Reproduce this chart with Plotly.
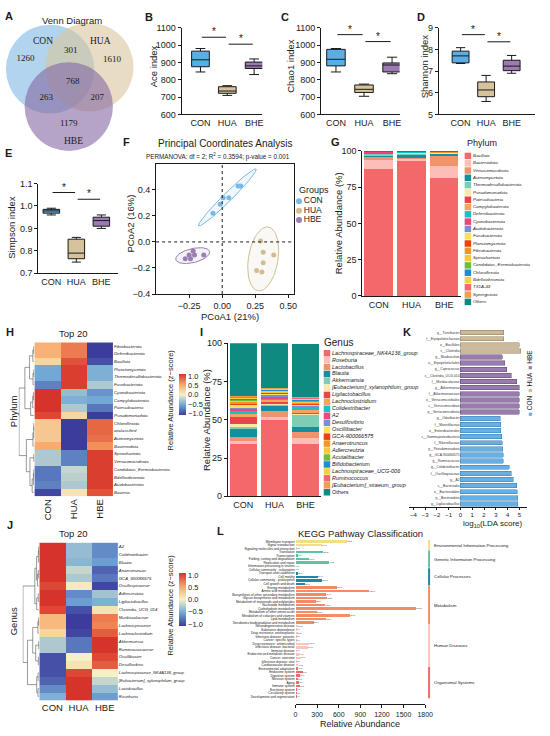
import numpy as np
import plotly.graph_objects as go

W, H = 550, 736
SANS = "Arial, Liberation Sans, sans-serif"
SERIF = "Times New Roman, Liberation Serif, serif"
INK = "#1a1a1a"

# ---------------- data ----------------
# A  Venn
venn_sets = ["CON", "HUA", "HBE"]
venn_only = [1260, 1610, 1179]
venn_pairs = [301, 263, 207]          # CON&HUA, CON&HBE, HUA&HBE
venn_core = 768

# B-E  alpha diversity (lower whisker, q1, median, q3, upper whisker)
alpha_groups = ["CON", "HUA", "BHE"]
ace_stats = dict(lo=[845, 710, 830], q1=[875, 722, 865], med=[915, 735, 880], q3=[965, 760, 902], hi=[980, 766, 920])
ace_sig = [1045, 1005]
chao1_stats = dict(lo=[845, 705, 835], q1=[880, 727, 845], med=[918, 745, 885], q3=[975, 770, 897], hi=[980, 775, 930])
chao1_sig = [1060, 1020]
shannon_stats = dict(lo=[7.35, 5.6, 6.9], q1=[7.38, 5.82, 7.02], med=[7.7, 6.13, 7.23], q3=[7.92, 6.5, 7.5], hi=[8.08, 6.8, 7.72])
shannon_sig = [8.68, 8.35]
simpson_stats = dict(lo=[0.96, 0.75, 0.90], q1=[0.968, 0.765, 0.91], med=[0.978, 0.79, 0.935], q3=[0.985, 0.852, 0.95], hi=[0.99, 0.86, 0.96])
simpson_sig = [1.06, 1.03]

# F  PCoA
pcoa_groups = ["CON", "HUA", "HBE"]
pcoa_x = [[-0.07, -0.015, 0.007, 0.05, 0.12, 0.14],
          [0.29, 0.31, 0.39, 0.31, 0.26, 0.30],
          [-0.28, -0.25, -0.24, -0.22, -0.21, -0.14]]
pcoa_y = [[0.22, 0.29, 0.34, 0.34, 0.43, 0.43],
          [0.008, -0.08, -0.10, -0.16, -0.22, -0.23],
          [-0.13, -0.10, -0.13, -0.07, -0.10, -0.10]]

# G  phylum composition (%), CON / HUA / BHE
phyla = ["Bacillota", "Bacteroidota", "Verrucomicrobiota", "Actinomycetota", "Thermodesulfobacteriota",
         "Pseudomonadota", "Patescibacteria", "Campylobacterota", "Deferribacterota", "Cyanobacteriota",
         "Acidobacteriota", "Fusobacteriota", "Planctomycetota", "Fibrobacterota", "Spirochaetota",
         "Candidatus_Eremiobacterota", "Chloroflexota", "Bdellovibrionota", "TX1A-33", "Synergistota", "Others"]
phylum_abund = [[87.3, 93.0, 81.6], [6.7, 1.5, 8.0], [1.8, 1.2, 7.2], [1.4, 1.3, 1.3], [0.8, 1.5, 0.4],
                [0.6, 0.3, 0.3], [0.3, 0.2, 0.2], [0.3, 0.2, 0.1], [0.1, 0.2, 0.05], [0.1, 0.05, 0.05],
                [0.05, 0.05, 0.05], [0.05, 0.05, 0.02], [0.02, 0.02, 0.02], [0.02, 0.02, 0.02], [0.02, 0.02, 0.02],
                [0.02, 0.02, 0.02], [0.02, 0.02, 0.02], [0.02, 0.02, 0.02], [0.02, 0.02, 0.02], [0.02, 0.02, 0.02],
                [0.34, 0.29, 0.57]]
comp_groups = ["CON", "HUA", "BHE"]

# I  genus composition (%)
genera = ["Lachnospiraceae_NK4A136_group", "Roseburia", "Lactobacillus", "Blautia", "Akkermansia",
          "[Eubacterium]_xylanophilum_group", "Ligilactobacillus", "Lachnoclostridium", "Colidextribacter", "A2",
          "Desulfovibrio", "Oscillibacter", "GCA-900066575", "Anaerotruncus", "Adlercreutzia", "Acutalibacter",
          "Bifidobacterium", "Lachnospiraceae_UCG-006", "Ruminococcus", "[Eubacterium]_siraeum_group", "Others"]
genus_abund = [[34, 50, 34], [2, 2, 4], [3, 4, 4], [5, 3, 3], [1, 0.5, 8], [2, 1, 1], [5, 1, 0.5], [2, 1.5, 2],
               [1.5, 1, 1], [1.5, 0.8, 0.5], [1, 1.2, 1], [1.5, 0.8, 1], [1, 0.5, 0.5], [1, 0.6, 0.8],
               [0.8, 0.8, 0.5], [0.6, 0.4, 0.5], [0.5, 0.4, 0.5], [1, 0.6, 1], [0.5, 0.4, 0.5], [0.6, 0.5, 0.5],
               [34.5, 29.0, 34.7]]
comp_palette = ["#f4686a", "#fbbfb8", "#f0926a", "#138fa0", "#7fcdb5", "#fde8a8", "#e8454a", "#f7a35c",
                "#14c4c4", "#f0447a", "#7b8fd0", "#fde05a", "#f04010", "#f7961e", "#f5c842", "#6cbf3d",
                "#1a8fd6", "#f5d040", "#f4686a", "#f59a50", "#0f8a80"]

# H  phylum z-score heatmap (CON, HUA, HBE)
heat_groups = ["CON", "HUA", "HBE"]
phylum_rows = ["Fibrobacterota", "Deferribacterota", "Bacillota", "Planctomycetota", "Thermodesulfobacteriota",
               "Fusobacteriota", "Cyanobacteriota", "Campylobacterota", "Patescibacteria", "Pseudomonadota",
               "Chloroflexota", "unclassified", "Actinomycetota", "Bacteroidota", "Spirochaetota",
               "Verrucomicrobiota", "Candidatus_Eremiobacterota", "Bdellovibrionota", "Acidobacteriota", "Bacteria"]
phylum_z = [[0.45, 0.75, -1.1], [0.45, 0.75, -1.1], [0.2, 0.95, -1.0], [-0.55, 1.05, -0.5], [-0.55, 1.05, -0.5],
            [-0.75, 1.05, -0.3], [1.1, -0.4, -0.65], [1.1, -0.5, -0.55], [1.1, -0.3, -0.8], [1.0, 0.2, -1.1],
            [0.3, -1.1, 0.85], [0.3, -1.1, 0.85], [0.3, -1.1, 0.8], [0.5, -1.1, 0.65], [-0.3, -0.75, 1.05],
            [-0.3, -0.75, 1.05], [-0.8, -0.2, 1.05], [-0.8, -0.25, 1.05], [-0.75, -0.3, 1.05], [-1.05, 0.1, 0.95]]
phylum_tree = (((((0, 1), 2), ((3, 4), 5)), (((6, 7), 8), 9)),
               ((((10, 11), 12), 13), ((14, 15), (((16, 17), 18), 19))))

# J  genus z-score heatmap
genus_rows = ["A2", "Colidextribacter", "Blautia", "Anaerotruncus", "GCA_900066575", "Oscillospiraceae",
              "Adlercreutzia", "Ligilactobacillus", "Clostridia_UCG_014", "Muribaculaceae", "Lachnospiraceae",
              "Lachnoclostridium", "Akkermansia", "Ruminococcaceae", "Oscillibacter", "Desulfovibrio",
              "Lachnospiraceae_NK4A136_group", "[Eubacterium]_xylanophilum_group", "Lactobacillus", "Roseburia"]
genus_z = [[1.1, -0.4, -0.7], [1.1, -0.4, -0.7], [1.1, -0.45, -0.6], [1.1, -0.2, -0.9], [1.1, -0.3, -0.8],
           [1.0, 0.05, -1.05], [1.1, -0.7, -0.35], [1.1, -0.6, -0.5], [1.0, -1.0, 0.1], [0.4, -1.1, 0.75],
           [0.4, -1.1, 0.7], [0.2, -1.05, 0.9], [-0.3, -0.8, 1.1], [-0.3, -0.8, 1.1], [-1.0, 0.0, 1.0],
           [-1.0, 0.1, 0.9], [-1.0, 1.0, 0.0], [-0.9, 1.1, -0.2], [-0.7, 1.1, -0.4], [-0.5, 1.1, -0.6]]
genus_tree = (((((0, 1), 2), ((3, 4), 5)), ((6, 7), 8)),
              ((((9, 10), 11), ((12, 13), (14, 15))), ((16, 17), (18, 19))))

# K  LEfSe
lda_hua_taxa = ["g__Turicibacter", "f__Erysipelotrichaceae", "o__Bacillales", "c__Clostridia"]
lda_hua = [3.67, 3.69, 5.0, 5.13]
lda_hbe_taxa = ["g__Muribaculum", "o__Erysipelotrichales", "g__Coprococcus", "c__Clostridia_UCG-014",
                "f__Muribaculaceae", "g__Akkermansia", "f__Akkermansiaceae", "o__Verrucomicrobiales",
                "c__Verrucomicrobiae", "p__Verrucomicrobiota"]
lda_hbe = [3.55, 3.75, 3.94, 4.3, 4.78, 4.98, 4.99, 4.99, 4.99, 5.0]
lda_con_taxa = ["g__Odoribacter", "f__Marinifilaceae", "o__Enterobacterales", "c__Gammaproteobacteria",
                "f__Rikenellaceae", "p__Pseudomonadota", "g__GCA-900066575", "g__Ruminococcus",
                "g__Colidextribacter", "f__Oscillospiraceae", "g__A2", "c__Bacteroidia", "o__Bacteroidales",
                "p__Bacteroidota", "g__Ligilactobacillus"]
lda_con = [3.38, 3.42, 3.44, 3.5, 3.53, 3.58, 3.61, 3.61, 4.14, 4.33, 4.47, 4.78, 4.83, 4.86, 4.86]

# L  KEGG level-2 pathways
kegg_levels = ["Environmental Information Processing", "Genetic Information Processing", "Cellular Processes",
               "Metabolism", "Human Diseases", "Organismal Systems"]
kegg_level_size = [3, 5, 5, 11, 12, 9]
kegg_colors = ["#f6dc84", "#5cc4a0", "#1a8aa6", "#f28c64", "#f9c4bc", "#f06a6a"]
kegg_paths = ["Membrane transport", "Signal transduction", "Signaling molecules and interaction",
              "Translation", "Transcription", "Folding, sorting and degradation", "Replication and repair",
              "Information processing in viruses",
              "Cellular community - eukaryotes", "Transport and catabolism", "Cell motility",
              "Cellular community - prokaryotes", "Cell growth and death",
              "Energy metabolism", "Amino acid metabolism", "Biosynthesis of other secondary metabolites",
              "Glycan biosynthesis and metabolism", "Metabolism of terpenoids and polyketides",
              "Nucleotide metabolism", "Carbohydrate metabolism", "Metabolism of other amino acids",
              "Metabolism of cofactors and vitamins", "Lipid metabolism", "Xenobiotics biodegradation and metabolism",
              "Neurodegenerative disease", "Substance dependence", "Drug resistance: antineoplastic",
              "Infectious disease: parasitic", "Cancer: specific types", "Drug resistance: antimicrobial",
              "Infectious disease: bacterial", "Immune disease", "Endocrine and metabolic disease",
              "Cancer: overview", "Infectious disease: viral", "Cardiovascular disease",
              "Environmental adaptation", "Endocrine system", "Digestive system", "Nervous system", "Aging",
              "Immune system", "Excretory system", "Circulatory system", "Development and regeneration"]
kegg_abund = [712.92, 364.41, 1.21,
              387.51, 21.9, 191.19, 466.33, 0.02,
              0.02, 35.69, 306.47, 371.02, 131.04,
              578.93, 1023.47, 419.67, 435.38, 282.96, 413.02, 1673.17, 296.2, 757.95, 423.97, 251.04,
              36.12, 1.04, 21.75, 2.0, 8.99, 191.65, 169.96, 1.7, 51.13, 76.11, 7.6, 40.02,
              40.07, 97.16, 62.34, 31.79, 47.66, 60.87, 9.05, 2.11, 0.14]

# ---------------- figure ----------------
fig = go.Figure()
lay = dict(width=W, height=H, margin=dict(l=0, r=0, t=0, b=0), paper_bgcolor="white",
           plot_bgcolor="rgba(0,0,0,0)", font=dict(family=SANS, size=9, color=INK),
           barmode="stack", showlegend=False)
ann = []
shp = []

LINE = dict(showline=True, linecolor=INK, linewidth=1, ticks="outside", ticklen=3, tickwidth=1,
            tickcolor=INK, tickfont=dict(size=9, color=INK))
HIDE = dict(visible=False)


def put_axes(n, x0, x1, top, bottom, xkw, ykw):
    s = "" if n == 1 else str(n)
    xa = dict(domain=[x0 / W, x1 / W], anchor="y" + s, showgrid=False, zeroline=False)
    ya = dict(domain=[1 - bottom / H, 1 - top / H], anchor="x" + s, showgrid=False, zeroline=False)
    xa.update(xkw)
    ya.update(ykw)
    lay["xaxis" + s] = xa
    lay["yaxis" + s] = ya
    return "x" + s, "y" + s


def label(x, y, s, size=9, bold=False, angle=0, anchor="center", family=SANS, color=INK):
    if bold:
        s = "<b>%s</b>" % s
    ann.append(dict(x=x / W, y=1 - y / H, xref="paper", yref="paper", text=s, showarrow=False,
                    font=dict(family=family, size=size, color=color), xanchor=anchor, yanchor="middle",
                    textangle=angle))


# panel letters
for ch, x, y in [("A", 7, 11), ("B", 150, 12), ("C", 288, 12), ("D", 427, 12), ("E", 7, 150), ("F", 127, 139),
                 ("G", 340, 139), ("H", 8, 331), ("I", 203, 332), ("J", 8, 527), ("K", 413, 331), ("L", 223, 533)]:
    label(x, y, ch, size=11, bold=True)

# ---- A: Venn ----
xa, ya = put_axes(1, 0, 140, 0, 152, dict(HIDE, range=[0, 140]), dict(HIDE, range=[152, 0]))
venn_centers = [(49, 65), (89, 63), (68, 103)]
venn_r = 45
venn_fill = ["#7fb7e3", "#d8c49d", "#8468a4"]
for (cx, cy), col in zip(venn_centers, venn_fill):
    shp.append(dict(type="circle", xref=xa, yref=ya, x0=cx - venn_r, x1=cx + venn_r, y0=cy - venn_r,
                    y1=cy + venn_r, fillcolor=col, opacity=0.6, line=dict(width=0), layer="below"))
venn_text_pos = [(24, 54), (112, 55), (68, 120), (70, 46), (45, 94), (97, 94), (72, 78)]
venn_values = venn_only + venn_pairs + [venn_core]
fig.add_trace(go.Scatter(x=[p[0] for p in venn_text_pos], y=[p[1] for p in venn_text_pos],
                         text=[str(v) for v in venn_values], mode="text",
                         textfont=dict(family=SERIF, size=9, color=INK), xaxis=xa, yaxis=ya, hoverinfo="skip"))
for name, (x, y) in zip(venn_sets, [(42, 37), (100, 37), (73, 138)]):
    label(x, y, name, size=9.5, family=SERIF)
label(71, 16, "Venn Diagram", size=9.5)

# ---- B-E: boxes ----
box_colors = ["#5aaee3", "#d6c39c", "#9b7bb1"]


def box_panel(n, x0, x1, top, bottom, xrange, yrange, dtick, stats, sig, ytitle, tpos, fmt=None):
    ykw = dict(LINE, range=yrange, dtick=dtick)
    if fmt:
        ykw["tickformat"] = fmt
    xa, ya = put_axes(n, x0, x1, top, bottom,
                      dict(LINE, range=xrange, tickvals=[0, 1, 2], ticktext=alpha_groups, ticks=""), ykw)
    for i, col in enumerate(box_colors):
        fig.add_trace(go.Box(x=[i], q1=[stats["q1"][i]], median=[stats["med"][i]], q3=[stats["q3"][i]],
                             lowerfence=[stats["lo"][i]], upperfence=[stats["hi"][i]], width=0.66,
                             whiskerwidth=0.55, fillcolor=col, line=dict(color=INK, width=1), boxpoints=False,
                             xaxis=xa, yaxis=ya, hoverinfo="skip"))
    for i, v in enumerate(sig):
        fig.add_trace(go.Scatter(x=[i + 0.05, i + 0.95], y=[v, v], mode="lines", line=dict(color=INK, width=1),
                                 xaxis=xa, yaxis=ya, hoverinfo="skip"))
        ann.append(dict(x=i + 0.5, y=v, xref=xa, yref=ya, text="*", showarrow=False, yanchor="bottom",
                        yshift=-2, font=dict(size=10, color=INK)))
    label(tpos[0], tpos[1], ytitle, size=9.5, angle=-90)


box_panel(2, 183, 265, 23, 111, [-0.7, 2.3], [600, 1100], 100, ace_stats, ace_sig, "Ace index", (154, 62))
box_panel(3, 325, 405, 23, 111, [-0.53, 2.27], [600, 1100], 100, chao1_stats, chao1_sig, "Chao1 index", (293, 62))
box_panel(4, 445, 543, 23, 111, [-0.85, 2.92], [5, 9], 1, shannon_stats, shannon_sig, "Shannon index", (430, 62))
box_panel(5, 37, 118, 181, 272, [-0.52, 2.66], [0.7, 1.1], 0.1, simpson_stats, simpson_sig, "Simpson index",
          (10, 225), fmt=".1f")

# ---- F: PCoA ----
pcoa_colors = ["#7ab8e6", "#d2bd93", "#9b7db5"]
pcoa_fill = ["rgba(122,184,230,0.10)", "rgba(210,189,147,0.10)", "rgba(155,125,181,0.10)"]
xa, ya = put_axes(6, 157, 297, 161, 293,
                  dict(LINE, range=[-0.5, 0.54], tickvals=[-0.25, 0, 0.25, 0.5], tickformat=".2f", mirror=True,
                       linewidth=1.3),
                  dict(LINE, range=[-0.4, 0.6], tickvals=[-0.4, -0.2, 0, 0.2, 0.4], tickformat=".1f",
                       mirror=True, linewidth=1.3))


def conf_ellipse(x, y, k=2.7, n=80):
    x = np.asarray(x)
    y = np.asarray(y)
    vals, vecs = np.linalg.eigh(np.cov(x, y))
    t = np.linspace(0, 2 * np.pi, n)
    pts = vecs @ (np.sqrt(vals)[:, None] * np.stack([np.cos(t), np.sin(t)])) * k
    return x.mean() + pts[0], y.mean() + pts[1]


for i in range(3):
    ex, ey = conf_ellipse(pcoa_x[i], pcoa_y[i])
    fig.add_trace(go.Scatter(x=ex, y=ey, mode="lines", fill="toself", fillcolor=pcoa_fill[i],
                             line=dict(color=pcoa_colors[i], width=1), xaxis=xa, yaxis=ya, hoverinfo="skip"))
    fig.add_trace(go.Scatter(x=pcoa_x[i], y=pcoa_y[i], mode="markers", marker=dict(size=5, color=pcoa_colors[i]),
                             xaxis=xa, yaxis=ya, hoverinfo="skip"))
shp.append(dict(type="line", xref=xa, yref=ya + " domain", x0=0, x1=0, y0=0, y1=1,
                line=dict(color=INK, width=1, dash="dot")))
shp.append(dict(type="line", xref=xa + " domain", yref=ya, x0=0, x1=1, y0=0, y1=0,
                line=dict(color=INK, width=1, dash="dot")))
label(228, 140, "Principal Coordinates Analysis", size=10)
label(220, 154, "PERMANOVA: df = 2; R<sup>2</sup> = 0.3594; p-value = 0.001", size=6.3)
label(131, 222, "PCoA2 (16%)", size=9.5, angle=-90)
label(232, 316, "PCoA1 (21%)", size=9.5)
# groups legend
xa, ya = put_axes(17, 298, 340, 194.25, 222.75, dict(HIDE, range=[-0.12, 1]), dict(HIDE, range=[2.5, -0.5]))
fig.add_trace(go.Scatter(x=[0, 0, 0], y=[0, 1, 2], mode="markers+text", text=pcoa_groups,
                         textposition="middle right", textfont=dict(size=8.5, color=INK),
                         marker=dict(size=6, color=pcoa_colors), xaxis=xa, yaxis=ya, hoverinfo="skip"))
label(300, 188, "Groups", size=9, anchor="left")


# ---- G / I: stacked composition ----
def comp_panel(n, x0, x1, top, bottom, names, values, ytitle_x):
    xa, ya = put_axes(n, x0, x1, top, bottom,
                      dict(LINE, range=[-0.5, 2.5], tickvals=[0, 1, 2], ticktext=comp_groups, ticks=""),
                      dict(LINE, range=[0, 100], tickvals=[0, 25, 50, 75, 100]))
    for name, vals, col in zip(names, values, comp_palette):
        fig.add_trace(go.Bar(x=[0, 1, 2], y=vals, name=name, width=0.87, marker=dict(color=col, line=dict(width=0)),
                             xaxis=xa, yaxis=ya, hoverinfo="skip"))
    label(ytitle_x, (top + bottom) / 2, "Relative Abundance (%)", size=9.5, angle=-90)


def legend_panel(n, x0, x1, top, bottom, names, tsize, msize, pad):
    k = len(names)
    xa, ya = put_axes(n, x0, x1, top, bottom, dict(HIDE, range=[-pad, 1]), dict(HIDE, range=[k - 0.5, -0.5]))
    txt = [nm if nm == "Others" else "<i>%s</i>" % nm for nm in names]
    fig.add_trace(go.Scatter(x=[0] * k, y=list(range(k)), mode="markers+text", text=txt,
                             textposition="middle right", textfont=dict(size=tsize, color=INK),
                             marker=dict(symbol="square", size=msize, color=comp_palette[:k]),
                             xaxis=xa, yaxis=ya, hoverinfo="skip", cliponaxis=False))


comp_panel(7, 367, 467, 148, 295, phyla, phylum_abund, 343)
legend_panel(15, 471, 545, 149.3, 304.7, phyla, 4.4, 6.5, 0.05)
label(472, 140, "Phylum", size=9, anchor="left")

comp_panel(10, 230, 325, 343, 498, genera, genus_abund, 209)
legend_panel(16, 327, 445, 349.5, 497.5, genera, 5.5, 6.5, 0.035)
label(326, 342, "Genus", size=10, anchor="left")

# ---- H / J: heatmaps ----
heat_scale = [[0.0, "#3c3c9c"], [0.25, "#72a8d6"], [0.5, "#f4f1c6"], [0.75, "#f9a464"], [1.0, "#d6342a"]]


def dendro(tree, values):
    vals = np.asarray(values, float)
    xs, ys = [], []

    def walk(node):
        if isinstance(node, int):
            return float(node), 0.0, vals[[node]]
        p1, h1, m1 = walk(node[0])
        p2, h2, m2 = walk(node[1])
        h = max(h1, h2) + np.linalg.norm(m1.mean(0) - m2.mean(0))
        xs.extend([h1, h, h, h2, None])
        ys.extend([p1, p1, p2, p2, None])
        return (p1 + p2) / 2, h, np.vstack([m1, m2])

    _, top_h, _ = walk(tree)
    return xs, ys, top_h


def heat_panel(n_heat, n_tree, x0, x1, top, bottom, tx0, rows, z, tree, cb_mid, cb_len, angle, row_size):
    k = len(rows)
    xa, ya = put_axes(n_heat, x0, x1, top, bottom,
                      dict(range=[-0.5, 2.5], tickvals=[0, 1, 2], ticktext=heat_groups, tickangle=angle,
                           ticks="", showline=False, tickfont=dict(size=9.5, color=INK)),
                      dict(range=[k - 0.5, -0.5], tickvals=list(range(k)), side="right", ticks="",
                           ticktext=["<i>%s</i>" % r for r in rows], tickfont=dict(size=row_size, color=INK)))
    fig.add_trace(go.Heatmap(z=z, x=[0, 1, 2], y=list(range(k)), colorscale=heat_scale, zmin=-1.1, zmax=1.1,
                             xaxis=xa, yaxis=ya, hoverinfo="skip",
                             colorbar=dict(x=180 / W, xanchor="left", y=1 - cb_mid / H, yanchor="middle",
                                           len=cb_len / H, thickness=7, outlinewidth=0, xpad=0, ypad=0,
                                           tickvals=[-1, -0.5, 0, 0.5, 1],
                                           ticktext=["−1.0", "−0.5", "0.0", "0.5", "1.0"],
                                           tickfont=dict(size=7.5, color=INK), ticks="")))
    lx, ly, th = dendro(tree, z)
    xb, yb = put_axes(n_tree, tx0, x0, top, bottom, dict(HIDE, range=[th * 1.02, -th * 0.04]),
                      dict(HIDE, range=[k - 0.5, -0.5]))
    fig.add_trace(go.Scatter(x=lx, y=ly, mode="lines", line=dict(color="#555", width=0.6),
                             xaxis=xb, yaxis=yb, hoverinfo="skip"))
    label(172, cb_mid + 5, "Relative Abundance (z−score)", size=7.5, angle=-90)
    label(73, top - 9, "Top 20", size=9.5)


heat_panel(8, 9, 33, 113, 342, 498, 17, phylum_rows, phylum_z, phylum_tree, 395, 42, -90, 4.3)
label(12, 412, "Phylum", size=9.5, angle=-90)
heat_panel(11, 12, 38, 118, 545, 705, 21, genus_rows, genus_z, genus_tree, 603, 54, 0, 4.2)
label(12, 625, "Genus", size=9.5, angle=-90)

# ---- K: LEfSe ----
lda_taxa = lda_hua_taxa + lda_hbe_taxa + lda_con_taxa
xa, ya = put_axes(13, 415, 535, 329, 509,
                  dict(LINE, range=[-4.33, 5.67], tickvals=list(range(-4, 6)), ticklen=2,
                       tickfont=dict(size=6, color=INK)),
                  dict(range=[len(lda_taxa) - 0.5, -0.5], tickvals=list(range(len(lda_taxa))), ticktext=lda_taxa,
                       ticks="", showline=False, anchor="free", position=466 / W,
                       tickfont=dict(size=3.3, color="#333")))
lda_sets = [(lda_hua, "#cdb995", "#8a7a5a"), (lda_hbe, "#9a7bb0", "#5e4a70"), (lda_con, "#68b0e2", "#3a7ab0")]
start = 0
for vals, col, edge in lda_sets:
    fig.add_trace(go.Bar(x=vals, y=list(range(start, start + len(vals))), orientation="h", width=0.72,
                         marker=dict(color=col, line=dict(color=edge, width=0.5)), xaxis=xa, yaxis=ya,
                         hoverinfo="skip"))
    start += len(vals)
label(500, 526, "log<sub>10</sub>(LDA score)", size=8)
label(538, 383, "<span style='color:#68b0e2'>■</span> CON  <span style='color:#cdb995'>■</span> HUA  "
                "<span style='color:#9a7bb0'>■</span> HBE", size=6.5, angle=-90)

# ---- L: KEGG ----
row_level = []
for lvl, size in enumerate(kegg_level_size):
    row_level += [lvl] * size
nk = len(kegg_paths)
xa, ya = put_axes(14, 299, 431, 542.2, 709,
                  dict(LINE, range=[0, 1800], tickvals=list(range(0, 1801, 300)), tickfont=dict(size=7, color=INK)),
                  dict(range=[46.2, -0.5], tickvals=list(range(nk)), ticktext=kegg_paths, ticks="",
                       tickfont=dict(size=3.2, color=INK)))
fig.add_trace(go.Bar(x=kegg_abund, y=list(range(nk)), orientation="h", width=0.72,
                     marker=dict(color=[kegg_colors[l] for l in row_level], line=dict(width=0)),
                     text=["%.2f" % v for v in kegg_abund], textposition="outside", cliponaxis=False,
                     textfont=dict(size=2.6, color="#333"), xaxis=xa, yaxis=ya, hoverinfo="skip"))
xb, yb = put_axes(18, 433, 438, 542.2, 709, dict(HIDE, range=[0, 1]), dict(HIDE, range=[46.2, -0.5]))
lay["xaxis18"]["anchor"] = "y14"
first = 0
for lvl, size in enumerate(kegg_level_size):
    fig.add_trace(go.Scatter(x=[0.4, 0.4], y=[first - 0.45, first + size - 0.55], mode="lines",
                             line=dict(color=kegg_colors[lvl], width=2), xaxis="x18", yaxis="y14",
                             hoverinfo="skip"))
    ann.append(dict(x=438 / W, y=first + (size - 1) / 2, xref="paper", yref="y14", text=kegg_levels[lvl],
                    showarrow=False, xanchor="left", font=dict(size=4.4, color=INK)))
    first += size
label(365, 536, "KEGG Pathway Classification", size=9.5)
label(365, 729, "Relative Abundance", size=9)

lay["annotations"] = ann
lay["shapes"] = shp
fig.update_layout(**lay)
fig.write_html("out.html", config={"displayModeBar": False},
               post_script="document.body.style.margin='0';document.body.style.overflow='hidden';")
